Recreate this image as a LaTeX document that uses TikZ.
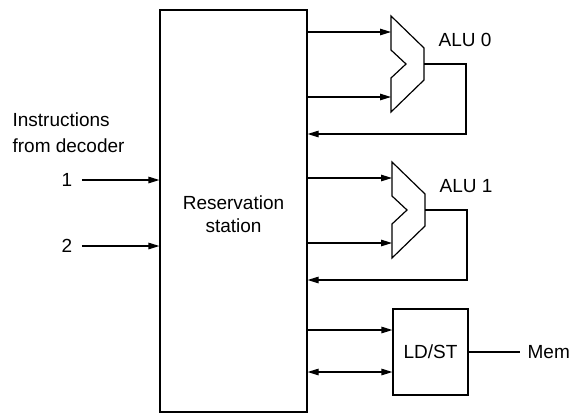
\documentclass[tikz,border=0pt]{standalone}
\usepackage{fontspec}
\setmainfont{Liberation Sans}
\usetikzlibrary{arrows.meta}
\begin{document}
\begin{tikzpicture}[x=1pt,y=-1pt, line width=1.2pt, line join=miter,
  >={Triangle[length=11pt,width=6.5pt]},
  lbl/.style={font=\fontsize{19}{26}\selectfont, inner sep=0pt},
  box/.style={draw, inner sep=0pt, align=center, font=\fontsize{19}{23}\selectfont},
  pics/alu/.style={code={
    \draw (0,-48) -- (0,-14) -- (15,0) -- (0,14) -- (0,48) -- (33,16) -- (33,-16) -- cycle;
    \coordinate (-a) at (0,-32);
    \coordinate (-b) at (0,33);
    \coordinate (-o) at (33,0);
  }}]
\useasboundingbox (0,0) rectangle (572,413);
% reservation station
\node[box, minimum width=147pt, minimum height=402pt] (rs) at (233.5,211) {};
\node[box, draw=none] (rstext) at (233.5,214) {Reservation\\station};
% inputs
\node[lbl, anchor=north west, align=left] (instr) at (12,112) {Instructions\\from decoder};
\node[lbl] (n1) at (67,180) {1};
\node[lbl] (n2) at (67,246) {2};
\draw[->, shorten <=9pt] (n1) -- (n1 -| rs.west);
\draw[->, shorten <=9pt] (n2) -- (n2 -| rs.west);
% ALUs
\pic (alu0) at (391,64) {alu};
\pic (alu1) at (392,210) {alu};
\node[lbl, anchor=west] (l0) at (438,40) {ALU 0};
\node[lbl, anchor=west] (l1) at (439,186) {ALU 1};
\draw[->] (rs.east |- alu0-a) -- (alu0-a);
\draw[->] (rs.east |- alu0-b) -- (alu0-b);
\draw[->] (alu0-o) -- ++(42,0) |- (rs.east |- 0,134);
\draw[->] (rs.east |- alu1-a) -- (alu1-a);
\draw[->] (rs.east |- alu1-b) -- (alu1-b);
\draw[->] (alu1-o) -- ++(42,0) |- (rs.east |- 0,280);
% LD/ST
\node[box, minimum width=75pt, minimum height=86pt] (ld) at (430.5,352) {LD/ST};
\node[lbl, anchor=west] (mem) at (527,352) {Mem};
\draw[shorten >=7pt] (ld.east) -- (mem.west);
\draw[->] (rs.east |- 0,330) -- (ld.west |- 0,330);
\draw[<->] (rs.east |- 0,372) -- (ld.west |- 0,372);
\end{tikzpicture}
\end{document}
